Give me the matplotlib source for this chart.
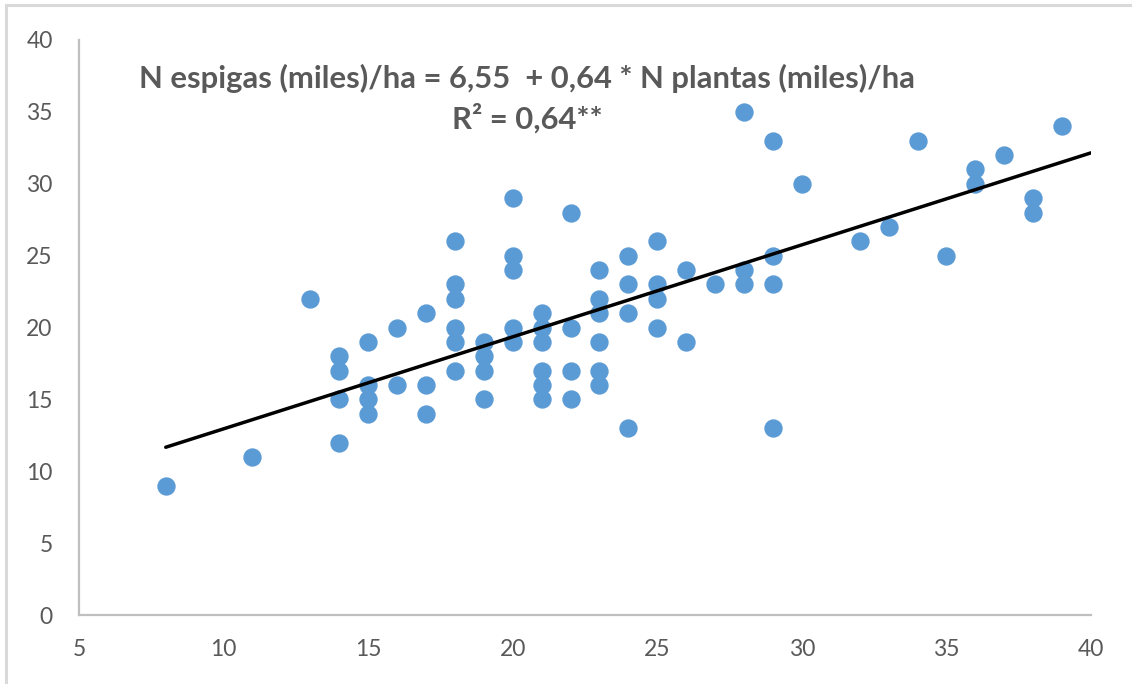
import matplotlib
matplotlib.use("Agg")
import matplotlib.pyplot as plt
from matplotlib.patches import Rectangle

plt.rcParams['font.family'] = ['Lato', 'DejaVu Sans']

# Plant density (thousands/ha) and spike count (thousands/ha)
plantas = [8, 11, 13,
           14, 14, 14, 14,
           15, 15, 15, 15,
           16, 16,
           17, 17, 17,
           18, 18, 18, 18, 18, 18,
           19, 19, 19, 19,
           20, 20, 20, 20, 20,
           21, 21, 21, 21, 21, 21,
           22, 22, 22, 22,
           23, 23, 23, 23, 23, 23,
           24, 24, 24, 24,
           25, 25, 25, 25,
           26, 26,
           27,
           28, 28, 28,
           29, 29, 29, 29,
           30, 32, 33, 34, 35,
           36, 36,
           37,
           38, 38,
           39]
espigas = [9, 11, 22,
           18, 17, 15, 12,
           19, 16, 15, 14,
           20, 16,
           21, 16, 14,
           26, 23, 22, 20, 19, 17,
           19, 18, 17, 15,
           29, 25, 24, 20, 19,
           21, 20, 19, 17, 16, 15,
           28, 20, 17, 15,
           24, 22, 21, 19, 17, 16,
           25, 23, 21, 13,
           26, 23, 22, 20,
           24, 19,
           23,
           35, 24, 23,
           33, 25, 23, 13,
           30, 26, 27, 33, 25,
           31, 30,
           32,
           29, 28,
           34]

# Fitted regression: N espigas = 6.55 + 0.64 * N plantas
intercepto = 6.55
pendiente = 0.64
r2 = 0.64
x_linea = [8, 40]

x_ticks = [5, 10, 15, 20, 25, 30, 35, 40]
y_ticks = [0, 5, 10, 15, 20, 25, 30, 35, 40]

W, H = 1132, 684
fig = plt.figure(figsize=(W / 100, H / 100), dpi=100)

# Outer chart frame
fig.patches.append(Rectangle((6 / W, -0.05), 1.2, (H - 5) / H + 0.05,
                             transform=fig.transFigure, fill=False,
                             edgecolor='#d9d9d9', linewidth=2.2))

ax = fig.add_axes([79 / W, (H - 615) / H, (1091 - 79) / W, (615 - 40) / H])

ax.plot(plantas, espigas, linestyle='none', marker='o', markersize=12.2,
        markerfacecolor='#5b9bd5', markeredgecolor='#5b9bd5', zorder=2)

y_linea = [intercepto + pendiente * x for x in x_linea]
ax.plot(x_linea, y_linea, color='black', linewidth=2.5,
        solid_capstyle='round', zorder=3)

ax.set_xlim(5, 40)
ax.set_ylim(0, 40)
ax.set_xticks(x_ticks)
ax.set_yticks(y_ticks)
ax.set_xticklabels([str(v) for v in x_ticks])
ax.set_yticklabels([str(v) for v in y_ticks])

for side in ('top', 'right'):
    ax.spines[side].set_visible(False)
for side in ('left', 'bottom'):
    ax.spines[side].set_color('#bfbfbf')
    ax.spines[side].set_linewidth(1.6)

ax.tick_params(axis='both', length=0, labelsize=16.5, labelcolor='#595959')
ax.tick_params(axis='y', pad=19)
ax.tick_params(axis='x', pad=17)

def fmt(v):
    return f"{v:.2f}".replace('.', ',')

ax.text(527 / W, 1 - 78 / H,
        f"N espigas (miles)/ha = {fmt(intercepto)}  + {fmt(pendiente)} * N plantas (miles)/ha",
        transform=fig.transFigure, ha='center', va='center',
        fontsize=22.3, fontweight='bold', color='#595959')
ax.text(527 / W, 1 - 118 / H, f"R² = {fmt(r2)}**",
        transform=fig.transFigure, ha='center', va='center',
        fontsize=22.3, fontweight='bold', color='#595959')

fig.savefig('out.png', dpi=100)
